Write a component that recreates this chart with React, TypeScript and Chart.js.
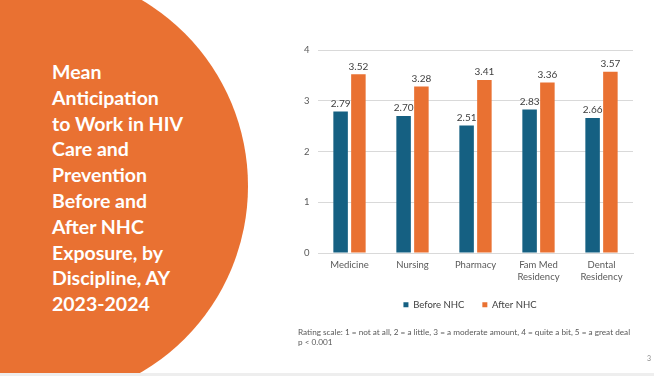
import React, { useEffect, useRef } from "react";
import { Chart, registerables } from "chart.js";

Chart.register(...registerables);

const categories: string[][] = [["Medicine"], ["Nursing"], ["Pharmacy"], ["Fam Med", "Residency"], ["Dental", "Residency"]];
const beforeNHC: number[] = [2.79, 2.7, 2.51, 2.83, 2.66];
const afterNHC: number[] = [3.52, 3.28, 3.41, 3.36, 3.57];
const seriesNames: string[] = ["Before NHC", "After NHC"];
const yTicks: number[] = [0, 1, 2, 3, 4];

const BLUE = "#156082";
const ORANGE = "#E97132";
const FONT = "Lato, 'Noto Sans', sans-serif";

const dataLabels = {
  id: "dataLabels",
  afterDatasetsDraw(chart: any) {
    const ctx = chart.ctx;
    ctx.save();
    ctx.font = `10px ${FONT}`;
    ctx.fillStyle = "#404040";
    ctx.textAlign = "center";
    ctx.textBaseline = "bottom";
    chart.data.datasets.forEach((ds: any, i: number) => {
      const meta = chart.getDatasetMeta(i);
      meta.data.forEach((el: any, j: number) => {
        ctx.fillText(Number(ds.data[j]).toFixed(2), el.x, el.y - 3);
      });
    });
    ctx.restore();
  },
};

function BarChart() {
  const ref = useRef<HTMLCanvasElement | null>(null);
  useEffect(() => {
    if (!ref.current) return;
    const chart = new Chart(ref.current, {
      type: "bar",
      data: {
        labels: categories,
        datasets: [
          { label: seriesNames[0], data: beforeNHC, backgroundColor: BLUE, categoryPercentage: 0.565, barPercentage: 0.815 },
          { label: seriesNames[1], data: afterNHC, backgroundColor: ORANGE, categoryPercentage: 0.565, barPercentage: 0.815 },
        ],
      },
      options: {
        animation: false,
        responsive: false,
        maintainAspectRatio: false,
        layout: { padding: { left: 37, right: 21, top: 20, bottom: 10.5 } },
        plugins: {
          tooltip: { enabled: false },
          legend: {
            position: "bottom",
            labels: {
              boxWidth: 5,
              boxHeight: 5,
              padding: 18,
              color: "#404040",
              font: { family: FONT, size: 9.5 },
            },
          },
        },
        scales: {
          x: {
            grid: { display: false, drawTicks: false },
            border: { display: true, color: "#d9d9d9" },
            ticks: { color: "#595959", font: { family: FONT, size: 9.5, lineHeight: 1.25 }, padding: 6, maxRotation: 0 },
            afterFit: (axis: any) => {
              axis.height = 29;
            },
          },
          y: {
            min: 0,
            max: 4,
            afterBuildTicks: (axis: any) => {
              axis.ticks = yTicks.map((v) => ({ value: v }));
            },
            grid: { color: "#d9d9d9", drawTicks: false },
            border: { display: false },
            ticks: {
              color: "#595959",
              font: { family: FONT, size: 9.5 },
              mirror: true,
              crossAlign: "far",
              padding: -14,
            },
            afterFit: (axis: any) => {
              axis.width = 11;
            },
          },
        },
      },
      plugins: [dataLabels],
    });
    return () => chart.destroy();
  }, []);
  return <canvas ref={ref} width={384} height={300} style={{ position: "absolute", left: 270, top: 30, width: 384, height: 300 }} />;
}

const titleLines: string[] = [
  "Mean",
  "Anticipation",
  "to Work in HIV",
  "Care and",
  "Prevention",
  "Before and",
  "After NHC",
  "Exposure, by",
  "Discipline, AY",
  "2023-2024",
];

export default function App() {
  useEffect(() => {
    document.body.style.margin = "0";
  }, []);
  return (
    <div style={{ position: "fixed", left: 0, top: 0, width: 654, height: 376, overflow: "hidden", background: "#ffffff" }}>
      <div
        style={{
          position: "absolute",
          left: 32 - 216,
          top: 186 - 216,
          width: 432,
          height: 432,
          borderRadius: "50%",
          background: ORANGE,
        }}
      />
      <div
        style={{
          position: "absolute",
          left: 52,
          top: 59,
          width: 200,
          color: "#ffffff",
          fontFamily: FONT,
          fontWeight: 700,
          fontSize: 19.5,
          lineHeight: "25.8px",
          whiteSpace: "nowrap",
        }}
      >
        {titleLines.map((l, i) => (
          <div key={i}>{l}</div>
        ))}
      </div>
      <BarChart />
      <div
        style={{
          position: "absolute",
          left: 298,
          top: 327,
          color: "#595959",
          fontFamily: FONT,
          fontSize: 8.2,
          lineHeight: "10px",
          whiteSpace: "nowrap",
        }}
      >
        <div>Rating scale: 1 = not at all, 2 = a little, 3 = a moderate amount, 4 = quite a bit, 5 = a great deal</div>
        <div>p &lt; 0.001</div>
      </div>
      <div style={{ position: "absolute", left: 647, top: 354, color: "#8c8c8c", fontFamily: FONT, fontSize: 7 }}>3</div>
      <div style={{ position: "absolute", left: 0, top: 373, width: 654, height: 3, background: "#eeeeee" }} />
    </div>
  );
}
